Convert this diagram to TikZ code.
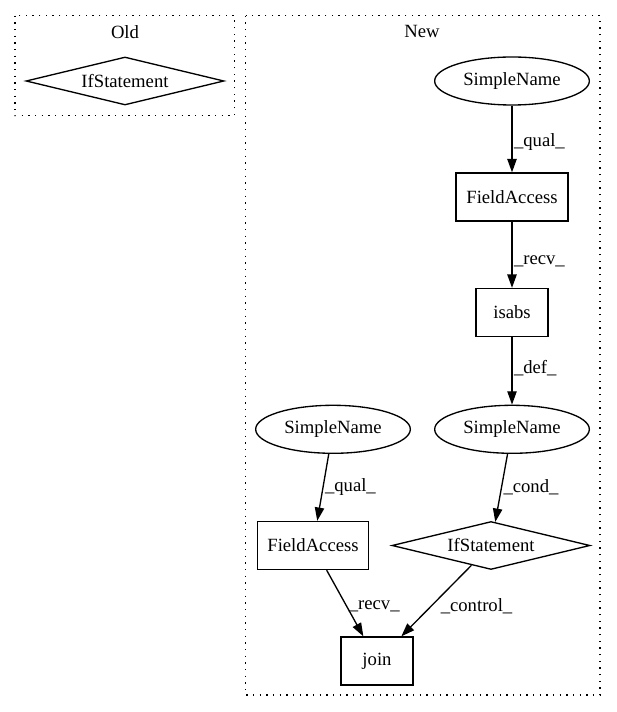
\documentclass[tikz,border=0pt]{standalone}
\usepackage{fontspec}
\setmainfont{Liberation Serif}
\usetikzlibrary{shapes.geometric,arrows.meta}
\begin{document}
\begin{tikzpicture}[x=0.75pt,y=-0.75pt,
  every node/.style={font=\fontsize{14pt}{17pt}\selectfont},
  nodebase/.style={draw=black, line width=1pt, inner sep=0pt},
  ell/.style={nodebase, ellipse, minimum width=116pt, minimum height=36pt},
  box/.style={nodebase, rectangle, minimum height=36pt},
  dia/.style={nodebase, diamond, shape aspect=4.125, minimum width=148.5pt, minimum height=36pt},
  conn/.style={draw=black, line width=1pt, -{Triangle[length=10pt,width=7pt]}},
  lbl/.style={draw=none, inner sep=1pt, anchor=west},
  cluster/.style={draw=black, line width=1pt, dash pattern=on 1pt off 4pt}
]
\fill[white] (0,0) rectangle (616,712);
\useasboundingbox (0,0) rectangle (616,712);

% clusters
\draw[cluster] (15,15.7) rectangle (234.3,115.7);
\node (oldlbl) at (125,31.7) {Old};
\draw[cluster] (245.5,15.7) rectangle (600,695);
\node (newlbl) at (422,31.7) {New};

% nodes
\node[dia] (oldif) at (125,81) {IfStatement};
\node[ell] (sn1) at (512,81) {SimpleName};
\node[box, minimum width=84pt] (fa1) at (512,197) {FieldAccess};
\node[box, minimum width=54pt] (isabs) at (512,312.5) {isabs};
\node[ell] (sn2) at (512,429.3) {SimpleName};
\node[ell] (sn3) at (333,429.3) {SimpleName};
\node[box, minimum width=83pt] (fa2) at (313,545.5) {FieldAccess};
\node[dia] (ifs) at (491,545.5) {IfStatement};
\node[box, minimum width=54pt] (join) at (377,661) {join};

% edges
\draw[conn] (sn1) -- node[lbl, pos=0.54] {\_qual\_} (fa1);
\draw[conn] (fa1) -- node[lbl, pos=0.60] {\_recv\_} (isabs);
\draw[conn] (isabs) -- node[lbl, pos=0.46] {\_def\_} (sn2);
\draw[conn] (sn3) -- node[lbl, pos=0.50] {\_qual\_} (fa2);
\draw[conn] (sn2) -- node[lbl, pos=0.49] {\_cond\_} (ifs);
\draw[conn] (fa2) -- node[lbl, pos=0.55] {\_recv\_} (join);
\draw[conn] (ifs) -- node[lbl, pos=0.58, xshift=6pt] {\_control\_} (join);
\end{tikzpicture}
\end{document}
